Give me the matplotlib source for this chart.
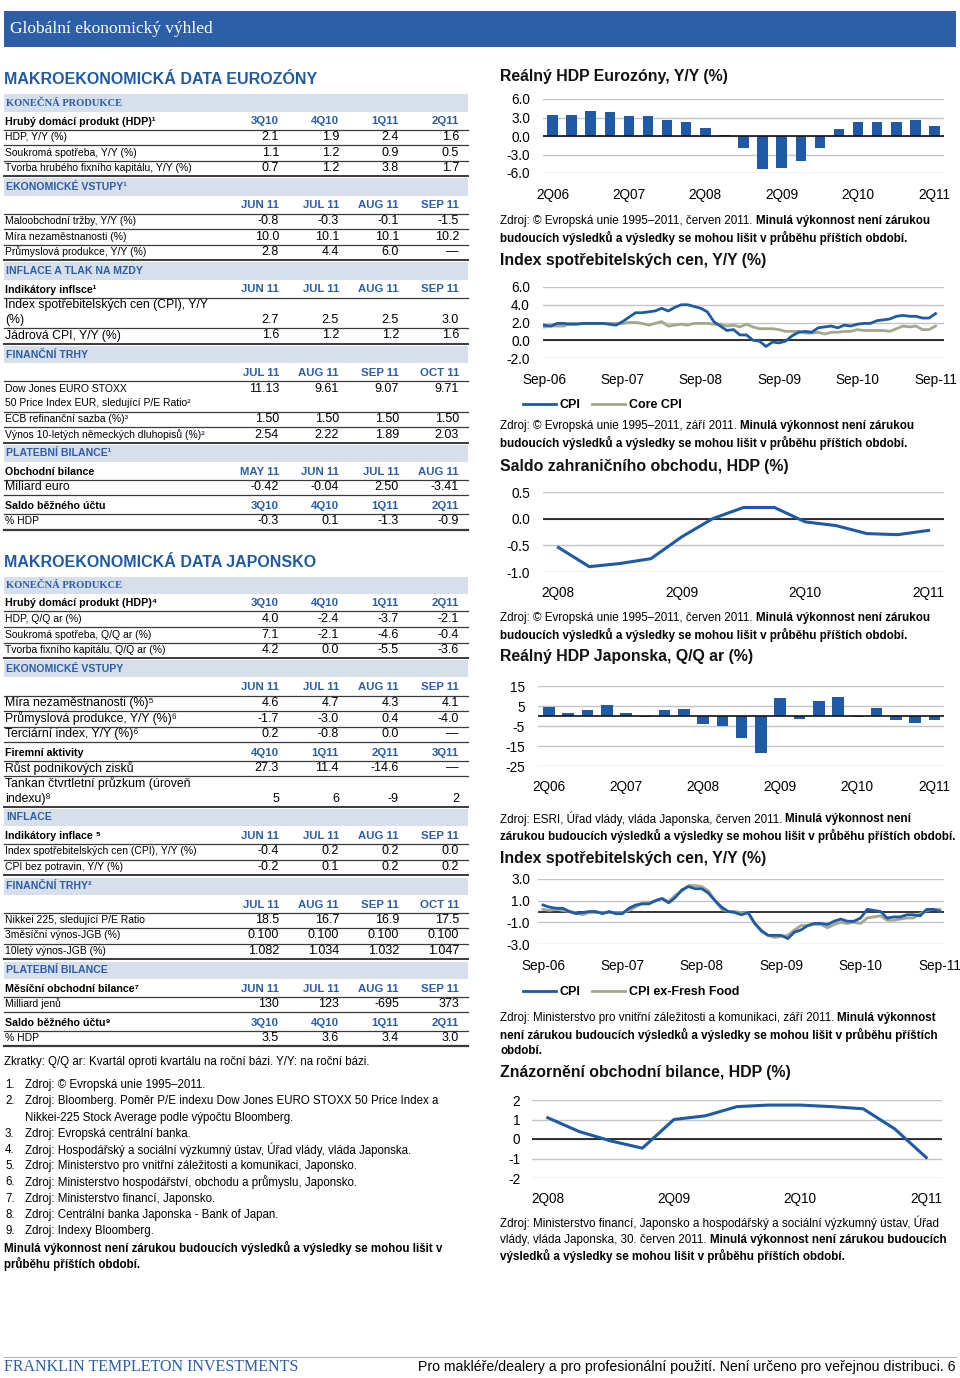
import numpy as np
import matplotlib
matplotlib.use('Agg')
import matplotlib.pyplot as plt
from matplotlib.lines import Line2D
from matplotlib.patches import Rectangle

W, H = 960, 1378
BLUE = '#1f5aa6'
HEADBLUE = '#2c5ea8'
BANDC = '#d7dfea'
OLIVE = '#a5a78c'
SANS = ['Liberation Sans', 'DejaVu Sans']
NARROW = ['Liberation Sans Narrow', 'Liberation Sans', 'DejaVu Sans']
SERIF = ['Liberation Serif', 'DejaVu Serif']
plt.rcParams['font.family'] = SANS

#%% chart data
gdp_q = ['2Q06', '3Q06', '4Q06', '1Q07', '2Q07', '3Q07', '4Q07', '1Q08', '2Q08', '3Q08', '4Q08',
         '1Q09', '2Q09', '3Q09', '4Q09', '1Q10', '2Q10', '3Q10', '4Q10', '1Q11', '2Q11']
ez_gdp = [3.4, 3.4, 4.1, 3.9, 3.2, 3.2, 2.6, 2.2, 1.3, 0.2, -2.0, -5.4, -5.2, -4.0, -2.0,
          1.1, 2.2, 2.2, 2.2, 2.6, 1.7]
jp_gdp = [4.6, 1.4, 2.8, 5.7, 1.4, -0.7, 2.8, 3.4, -4.0, -4.8, -10.9, -18.3, 8.8, -1.4, 7.4,
          9.5, -0.6, 4.0, -2.1, -3.3, -2.1]

sep_labels = ['Sep-06', 'Sep-07', 'Sep-08', 'Sep-09', 'Sep-10', 'Sep-11']
# monthly, Sep-06 .. Sep-11
ez_cpi = [1.7, 1.6, 1.9, 1.9, 1.8, 1.8, 1.9, 1.9, 1.9, 1.9, 1.8, 1.7,
          2.1, 2.6, 3.1, 3.1, 3.2, 3.3, 3.6, 3.3, 3.7, 4.0, 4.0, 3.8,
          3.6, 3.2, 2.1, 1.6, 1.1, 1.2, 0.6, 0.6, 0.0, -0.1, -0.7, -0.2,
          -0.3, -0.1, 0.5, 0.9, 1.0, 0.9, 1.4, 1.5, 1.6, 1.4, 1.7, 1.6,
          1.8, 1.9, 1.9, 2.2, 2.3, 2.4, 2.7, 2.8, 2.7, 2.7, 2.5, 2.5,
          3.0]
ez_core = [1.5, 1.6, 1.6, 1.6, 1.9, 1.9, 1.9, 1.9, 1.9, 1.9, 1.9, 1.9,
           1.9, 2.0, 2.0, 1.9, 1.7, 1.9, 2.1, 1.6, 1.7, 1.8, 1.7, 1.9,
           1.9, 1.9, 1.8, 1.8, 1.6, 1.7, 1.5, 1.8, 1.5, 1.3, 1.3, 1.3,
           1.2, 1.0, 1.0, 1.0, 0.8, 0.8, 0.9, 0.7, 0.9, 0.9, 1.0, 1.0,
           1.2, 1.1, 1.1, 1.1, 1.1, 1.0, 1.3, 1.6, 1.5, 1.6, 1.2, 1.2,
           1.6]
jp_cpi = [0.6, 0.4, 0.3, 0.3, 0.0, -0.2, -0.1, 0.0, 0.0, -0.2, 0.0, -0.2,
          -0.2, 0.3, 0.6, 0.7, 0.7, 1.0, 1.2, 0.8, 1.3, 2.0, 2.3, 2.1,
          2.1, 1.7, 1.0, 0.4, 0.0, -0.1, -0.3, -0.1, -1.1, -1.8, -2.2, -2.2,
          -2.2, -2.5, -1.9, -1.7, -1.3, -1.1, -1.1, -1.2, -0.9, -0.7, -0.9, -0.9,
          -0.6, 0.2, 0.1, 0.0, -0.6, -0.5, -0.5, -0.3, -0.3, -0.4, 0.2, 0.2,
          0.0]
jp_core = [0.2, 0.1, 0.2, 0.1, 0.0, -0.1, -0.3, -0.1, -0.1, -0.1, -0.1, -0.1,
           -0.1, 0.1, 0.4, 0.8, 0.8, 1.0, 1.2, 0.9, 1.5, 1.9, 2.4, 2.4,
           2.3, 1.9, 1.0, 0.2, 0.0, 0.0, -0.1, -0.1, -1.1, -1.7, -2.2, -2.4,
           -2.3, -2.2, -1.7, -1.3, -1.3, -1.2, -1.2, -1.5, -1.2, -1.0, -1.1, -1.0,
           -1.1, -0.6, -0.5, -0.4, -0.8, -0.8, -0.7, -0.6, -0.6, -0.2, 0.1, 0.2,
           0.2]

bal_q = ['2Q08', '3Q08', '4Q08', '1Q09', '2Q09', '3Q09', '4Q09', '1Q10', '2Q10', '3Q10',
         '4Q10', '1Q11', '2Q11']
ez_bal = [-0.54, -0.90, -0.84, -0.75, -0.34, 0.0, 0.21, 0.21, -0.06, -0.13, -0.28, -0.30, -0.22]
jp_bal = [1.09, 0.38, -0.10, -0.47, 1.00, 1.19, 1.66, 1.74, 1.74, 1.66, 1.55, 0.52, -0.95]

#%% table data
Q = ['3Q10', '4Q10', '1Q11', '2Q11']
JUN_SEP = ['JUN 11', 'JUL 11', 'AUG 11', 'SEP 11']
JUL_OCT = ['JUL 11', 'AUG 11', 'SEP 11', 'OCT 11']

ez_rows = [
    ('band', 'KONEČNÁ PRODUKCE', 'serif'),
    ('head', 'Hrubý domácí produkt (HDP)¹', Q),
    ('row', 'HDP, Y/Y (%)', ['2.1', '1.9', '2.4', '1.6']),
    ('row', 'Soukromá spotřeba, Y/Y (%)', ['1.1', '1.2', '0.9', '0.5']),
    ('row', 'Tvorba hrubého fixního kapitálu, Y/Y (%)', ['0.7', '1.2', '3.8', '1.7']),
    ('band', 'EKONOMICKÉ VSTUPY¹', 'sans'),
    ('head', '', JUN_SEP),
    ('row', 'Maloobchodní tržby, Y/Y (%)', ['-0.8', '-0.3', '-0.1', '-1.5']),
    ('row', 'Míra nezaměstnanosti (%)', ['10.0', '10.1', '10.1', '10.2']),
    ('row', 'Průmyslová produkce, Y/Y (%)', ['2.8', '4.4', '6.0', '—']),
    ('band', 'INFLACE A TLAK NA MZDY', 'sans'),
    ('head', 'Indikátory inflsce¹', JUN_SEP),
    ('row2w', ['Index spotřebitelských cen (CPI), Y/Y', '(%)'], ['2.7', '2.5', '2.5', '3.0'], 1),
    ('roww', 'Jádrová CPI, Y/Y (%)', ['1.6', '1.2', '1.2', '1.6']),
    ('band', 'FINANČNÍ TRHY', 'sans'),
    ('head', '', JUL_OCT),
    ('row2', ['Dow Jones EURO STOXX', '50 Price Index EUR, sledující P/E Ratio²'],
     ['11.13', '9.61', '9.07', '9.71'], 0),
    ('row', 'ECB refinanční sazba (%)³', ['1.50', '1.50', '1.50', '1.50']),
    ('row', 'Výnos 10-letých německých dluhopisů (%)²', ['2.54', '2.22', '1.89', '2.03']),
    ('band', 'PLATEBNÍ BILANCE¹', 'sans'),
    ('head', 'Obchodní bilance', ['MAY 11', 'JUN 11', 'JUL 11', 'AUG 11']),
    ('roww', 'Miliard euro', ['-0.42', '-0.04', '2.50', '-3.41']),
    ('head', 'Saldo běžného účtu', Q),
    ('row', '% HDP', ['-0.3', '0.1', '-1.3', '-0.9']),
]

jp_rows = [
    ('band', 'KONEČNÁ PRODUKCE', 'serif'),
    ('head', 'Hrubý domácí produkt (HDP)⁴', Q),
    ('row', 'HDP, Q/Q ar (%)', ['4.0', '-2.4', '-3.7', '-2.1']),
    ('row', 'Soukromá spotřeba, Q/Q ar (%)', ['7.1', '-2.1', '-4.6', '-0.4']),
    ('row', 'Tvorba fixního kapitálu, Q/Q ar (%)', ['4.2', '0.0', '-5.5', '-3.6']),
    ('band', 'EKONOMICKÉ VSTUPY', 'sans'),
    ('head', '', JUN_SEP),
    ('roww', 'Míra nezaměstnanosti (%)⁵', ['4.6', '4.7', '4.3', '4.1']),
    ('roww', 'Průmyslová produkce, Y/Y (%)⁶', ['-1.7', '-3.0', '0.4', '-4.0']),
    ('roww', 'Terciární index, Y/Y (%)⁶', ['0.2', '-0.8', '0.0', '—']),
    ('head', 'Firemní aktivity', ['4Q10', '1Q11', '2Q11', '3Q11']),
    ('roww', 'Růst podnikových zisků', ['27.3', '11.4', '-14.6', '—']),
    ('row2w', ['Tankan čtvrtletní průzkum (úroveň', 'indexu)⁸'], ['5', '6', '-9', '2'], 1),
    ('band', 'INFLACE', 'sans'),
    ('head', 'Indikátory inflace ⁵', JUN_SEP),
    ('row', 'Index spotřebitelských cen (CPI), Y/Y (%)', ['-0.4', '0.2', '0.2', '0.0']),
    ('row', 'CPI bez potravin, Y/Y (%)', ['-0.2', '0.1', '0.2', '0.2']),
    ('band', 'FINANČNÍ TRHY²', 'sans'),
    ('head', '', JUL_OCT),
    ('row', 'Nikkei 225, sledující P/E Ratio', ['18.5', '16.7', '16.9', '17.5']),
    ('row', '3měsíční výnos-JGB (%)', ['0.100', '0.100', '0.100', '0.100']),
    ('row', '10letý výnos-JGB (%)', ['1.082', '1.034', '1.032', '1.047']),
    ('band', 'PLATEBNÍ BILANCE', 'sans'),
    ('head', 'Měsíční obchodní bilance⁷', JUN_SEP),
    ('row', 'Milliard jenů', ['130', '123', '-695', '373']),
    ('head', 'Saldo běžného účtu⁹', Q),
    ('row', '% HDP', ['3.5', '3.6', '3.4', '3.0']),
]

notes = [
    'Zdroj: © Evropská unie 1995–2011.',
    'Zdroj: Bloomberg. Poměr P/E indexu Dow Jones EURO STOXX 50 Price Index a\nNikkei-225 Stock Average podle výpočtu Bloomberg.',
    'Zdroj: Evropská centrální banka.',
    'Zdroj: Hospodářský a sociální výzkumný ústav, Úřad vlády, vláda Japonska.',
    'Zdroj: Ministerstvo pro vnitřní záležitosti a komunikaci, Japonsko.',
    'Zdroj: Ministerstvo hospodářství, obchodu a průmyslu, Japonsko.',
    'Zdroj: Ministerstvo financí, Japonsko.',
    'Zdroj: Centrální banka Japonska - Bank of Japan.',
    'Zdroj: Indexy Bloomberg.',
]

DISC = 'Minulá výkonnost není zárukou'
DISC2 = 'budoucích výsledků a výsledky se mohou lišit v průběhu příštích období.'

#%% helpers
fig = plt.figure(figsize=(W / 100, H / 100), dpi=100)
renderer = fig.canvas.get_renderer()

ROW_FS = 7.5     # narrow-looking labels
WIDE_FS = 8.8    # wider labels
HEAD_FS = 7.7
VAL_FS = 9.0
SRC_FS = 8.4
NOTE_FS = 8.3


def txt(x, y, s, **kw):
    kw.setdefault('va', 'center')
    kw.setdefault('family', NARROW)
    return fig.text(x / W, 1 - y / H, s, **kw)


def hline(x0, x1, y, lw=0.8, color='#3a3a3a'):
    fig.add_artist(Line2D([x0 / W, x1 / W], [1 - y / H, 1 - y / H], lw=lw, color=color,
                          transform=fig.transFigure))


def rect(x0, y0, x1, y1, color):
    fig.add_artist(Rectangle((x0 / W, 1 - y1 / H), (x1 - x0) / W, (y1 - y0) / H,
                             transform=fig.transFigure, color=color, lw=0))


def rich(x, y, parts, size=SRC_FS):
    for s, bold in parts:
        t = txt(x, y, s, fontsize=size, fontweight='bold' if bold else 'normal')
        x += t.get_window_extent(renderer).width + 3


COLX = [279, 339, 399, 459]


def draw_table(rows, y):
    first = True
    pending = None
    for r in rows:
        kind = r[0]
        if pending is not None:
            hline(4, 468, pending, lw=1.4 if kind == 'band' else 0.9)
            pending = None
        if kind == 'band':
            if not first:
                y += 19
            rect(4, y - 8.5, 468, y + 8.5, BANDC)
            if r[2] == 'serif':
                txt(6, y + 0.5, r[1], fontsize=7.6, fontweight='bold', color=HEADBLUE, family=SERIF)
            else:
                txt(6, y, r[1], fontsize=7.6, fontweight='bold', color=HEADBLUE, family=SANS)
        elif kind == 'head':
            y += 18.5
            txt(5, y, r[1], fontsize=HEAD_FS, fontweight='bold')
            for cx, c in zip(COLX, r[2]):
                txt(cx, y, c, fontsize=8.2, fontweight='bold', color=HEADBLUE, ha='right')
            pending = y + 8
        elif kind in ('row', 'roww'):
            y += 15.5
            if kind == 'row':
                txt(5, y, r[1], fontsize=ROW_FS)
            else:
                txt(5, y, r[1], fontsize=WIDE_FS, family=SANS)
            for cx, v in zip(COLX, r[2]):
                txt(cx, y, v, fontsize=VAL_FS, family=SANS, ha='right')
            pending = y + 8
        else:
            y += 15.5
            ys = [y, y + 15]
            fs = WIDE_FS if kind == 'row2w' else ROW_FS
            txt(5, ys[0], r[1][0], fontsize=fs)
            txt(5, ys[1], r[1][1], fontsize=fs)
            for cx, v in zip(COLX, r[2]):
                txt(cx, ys[r[3]], v, fontsize=VAL_FS, family=SANS, ha='right')
            y += 15
            pending = y + 8
        first = False
    if pending is not None:
        hline(4, 468, pending, lw=1.6)


def make_ax(l, r, t, b):
    ax = fig.add_axes([l / W, 1 - b / H, (r - l) / W, (b - t) / H])
    for s in ax.spines.values():
        s.set_visible(False)
    ax.tick_params(length=0, labelsize=9.8)
    ax.grid(axis='y', color='#c4c4c4', lw=1.0)
    ax.set_axisbelow(True)
    ax.patch.set_alpha(0)
    return ax


def yaxis(ax, ticks, fmt, pad):
    ax.set_ylim(min(ticks), max(ticks))
    ax.set_yticks(ticks)
    ax.set_yticklabels([fmt.format(v) for v in ticks])
    ax.tick_params(axis='y', pad=pad)
    ax.axhline(0, color='#111111', lw=1.2, zorder=3)


def legend(ax, handles, labels, y):
    ax.legend(handles, labels, loc='center left', bbox_to_anchor=(523 / W, 1 - y / H),
              bbox_transform=fig.transFigure, ncol=2, frameon=False, handlelength=2.6,
              handletextpad=0.35, columnspacing=0.9, borderpad=0, borderaxespad=0,
              prop=dict(weight='bold', size=9, family=SANS))


#%% page header / footer
rect(4, 11, 956, 47, '#2d5fa8')
txt(10, 29, 'Globální ekonomický výhled', fontsize=12.5, color='white', family=SERIF)
hline(4, 956, 1357, lw=0.8, color='#b5b5b5')
txt(4, 1367, 'FRANKLIN TEMPLETON INVESTMENTS', fontsize=11.5, color=HEADBLUE, family=SERIF)
txt(956, 1367, 'Pro makléře/dealery a pro profesionální použití. Není určeno pro veřejnou distribuci. 6',
    fontsize=10.2, ha='right')

#%% left column tables
txt(4, 79, 'MAKROEKONOMICKÁ DATA EUROZÓNY', fontsize=11.5, fontweight='bold', color=BLUE, family=SANS)
draw_table(ez_rows, 103)
txt(4, 562, 'MAKROEKONOMICKÁ DATA JAPONSKO', fontsize=11.5, fontweight='bold', color=BLUE, family=SANS)
draw_table(jp_rows, 585)

txt(4, 1062, 'Zkratky: Q/Q ar: Kvartál oproti kvartálu na roční bázi. Y/Y: na roční bázi.', fontsize=NOTE_FS)
ny = 1085
for i, n in enumerate(notes):
    txt(5, ny, f'{i + 1}.', fontsize=NOTE_FS)
    for k, line in enumerate(n.split('\n')):
        txt(25, ny, line, fontsize=NOTE_FS)
        ny += 16.3 if k == 0 else 16
txt(4, 1248, 'Minulá výkonnost není zárukou budoucích výsledků a výsledky se mohou lišit v',
    fontsize=NOTE_FS, fontweight='bold')
txt(4, 1264, 'průběhu příštích období.', fontsize=NOTE_FS, fontweight='bold')


#%% right column charts
def title(y, s):
    txt(500, y, s, fontsize=11.4, fontweight='bold', family=SANS, color='#111111')


def source(y, lines):
    for k, parts in enumerate(lines):
        rich(500, y + k * 16.5, parts)


# 1 - eurozone GDP
title(76, 'Reálný HDP Eurozóny, Y/Y (%)')
ax = make_ax(543, 944, 99, 173)
x = np.arange(len(gdp_q))
ax.bar(x, ez_gdp, width=0.55, color=BLUE, zorder=2)
yaxis(ax, [6, 3, 0, -3, -6], '{:.1f}', 9.4)
ax.set_xlim(-0.5, 20.5)
ax.set_xticks(x[::4])
ax.set_xticklabels(gdp_q[::4])
ax.tick_params(axis='x', pad=11)
source(221, [[('Zdroj: © Evropská unie 1995–2011, červen 2011.', 0), (DISC, 1)], [(DISC2, 1)]])

# 2 - eurozone CPI
title(260, 'Index spotřebitelských cen, Y/Y (%)')
ax = make_ax(543, 944, 287, 358)
m = np.arange(len(ez_cpi))
l2, = ax.plot(m, ez_core, color=OLIVE, lw=2.0, zorder=4)
l1, = ax.plot(m, ez_cpi, color=BLUE, lw=2.0, zorder=5)
yaxis(ax, [6, 4, 2, 0, -2], '{:.1f}', 9.4)
ax.set_xlim(-0.2, 61.3)
ax.set_xticks(m[::12])
ax.set_xticklabels(sep_labels)
ax.tick_params(axis='x', pad=11)
legend(ax, [l1, l2], ['CPI', 'Core CPI'], 405)
source(426, [[('Zdroj: © Evropská unie 1995–2011, září 2011.', 0), (DISC, 1)], [(DISC2, 1)]])

# 3 - eurozone trade balance
title(466, 'Saldo zahraničního obchodu, HDP (%)')
ax = make_ax(543, 944, 492, 572)
xb = np.arange(len(bal_q))
ax.plot(xb, ez_bal, color=BLUE, lw=2.2, zorder=5)
yaxis(ax, [0.5, 0.0, -0.5, -1.0], '{:.1f}', 9.4)
ax.set_xlim(-0.5, 12.5)
ax.set_xticks(xb[::4])
ax.set_xticklabels(bal_q[::4])
ax.tick_params(axis='x', pad=10)
source(618, [[('Zdroj: © Evropská unie 1995–2011, červen 2011.', 0), (DISC, 1)], [(DISC2, 1)]])

# 4 - Japan GDP
title(656, 'Reálný HDP Japonska, Q/Q ar (%)')
ax = make_ax(538, 944, 686, 766)
ax.bar(x, jp_gdp, width=0.6, color=BLUE, zorder=2)
yaxis(ax, [15, 5, -5, -15, -25], '{:d}', 9.4)
ax.set_xlim(-0.57, 20.5)
ax.set_xticks(x[::4])
ax.set_xticklabels(gdp_q[::4])
ax.tick_params(axis='x', pad=10)
source(819, [[('Zdroj: ESRI, Úřad vlády, vláda Japonska, červen 2011.', 0), ('Minulá výkonnost není', 1)],
             [('zárukou budoucích výsledků a výsledky se mohou lišit v průběhu příštích období.', 1)]])

# 5 - Japan CPI
title(858, 'Index spotřebitelských cen, Y/Y (%)')
ax = make_ax(538, 944, 879, 944)
l2, = ax.plot(m, jp_core, color=OLIVE, lw=2.0, zorder=4)
l1, = ax.plot(m, jp_cpi, color=BLUE, lw=2.0, zorder=5)
yaxis(ax, [3, 1, -1, -3], '{:.1f}', 5.8)
ax.set_xlim(-0.75, 60.6)
ax.set_xticks(m[::12])
ax.set_xticklabels(sep_labels)
ax.tick_params(axis='x', pad=11)
legend(ax, [l1, l2], ['CPI', 'CPI ex-Fresh Food'], 992)
source(1018, [[('Zdroj: Ministerstvo pro vnitřní záležitosti a komunikaci, září 2011.', 0), ('Minulá výkonnost', 1)],
              [('není zárukou budoucích výsledků a výsledky se mohou lišit v průběhu příštích', 1)],
              [('období.', 1)]])

# 6 - Japan trade balance
title(1073, 'Znázornění obchodní bilance, HDP (%)')
ax = make_ax(532, 942, 1100, 1178)
ax.plot(xb, jp_bal, color=BLUE, lw=2.2, zorder=5)
yaxis(ax, [2, 1, 0, -1, -2], '{:d}', 8.6)
ax.set_xlim(-0.5, 12.5)
ax.set_xticks(xb[::4])
ax.set_xticklabels(bal_q[::4])
ax.tick_params(axis='x', pad=10)
source(1223, [[('Zdroj: Ministerstvo financí, Japonsko a hospodářský a sociální výzkumný ústav, Úřad', 0)],
              [('vlády, vláda Japonska, 30. červen 2011.', 0), ('Minulá výkonnost není zárukou budoucích', 1)],
              [('výsledků a výsledky se mohou lišit v průběhu příštích období.', 1)]])

fig.savefig('out.png', dpi=100)
